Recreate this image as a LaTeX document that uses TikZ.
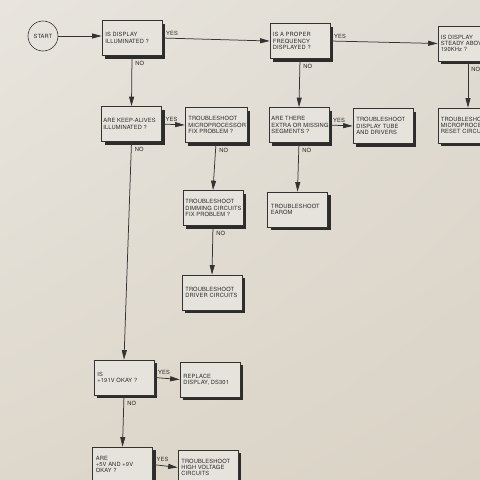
\documentclass[tikz,border=0pt]{standalone}
\usepackage{fontspec}
\newfontfamily\chartfont[LetterSpace=2.5]{TeX Gyre Heros}
\usetikzlibrary{arrows.meta,shadows,shadings}
\definecolor{ink}{HTML}{333333}
\definecolor{txt}{HTML}{2A2A2A}
\definecolor{boxfill}{HTML}{E6E3DC}
\definecolor{shadowc}{HTML}{2E2C2A}
\definecolor{bgul}{RGB}{232,229,222}
\definecolor{bgur}{RGB}{224,220,211}
\definecolor{bgll}{RGB}{222,216,204}
\definecolor{bglr}{RGB}{218,210,197}
\begin{document}
\begin{tikzpicture}[x=1pt,y=1pt,
  fbox/.style={draw=ink, line width=0.7pt, fill=boxfill, minimum width=60pt, minimum height=35pt, inner sep=0pt,
    drop shadow={shadow xshift=3pt, shadow yshift=-3pt, fill=shadowc, opacity=1}},
  ftext/.style={anchor=west, align=left, inner sep=0pt, text=txt, font=\chartfont\fontsize{5.75}{6.2}\selectfont},
  lbl/.style={inner sep=0pt, text=txt, font=\chartfont\fontsize{5.75}{6.2}\selectfont},
  arr/.style={draw=ink, line width=0.75pt, -{Triangle[length=9.5pt,width=5pt]}},
  yes/.style={lbl, anchor=south west, xshift=3.5pt, yshift=2.5pt},
  no/.style={lbl, anchor=north west, xshift=3pt, yshift=-5pt}
]
\useasboundingbox (0,-480) rectangle (480,0);
\clip (0,-480) rectangle (480,0);
\shade[upper left=bgul, upper right=bgur, lower left=bgll, lower right=bglr]
  (0,-480) rectangle (480,0);

% nodes
\node[circle, draw=ink, line width=0.6pt, minimum size=30pt, inner sep=0pt, fill=boxfill, lbl] (start) at (43,-36) {START};

\node[fbox] (b1) at (132,-38) {};
\node[ftext] (t1) at ([xshift=3.5pt]b1.west) {IS DISPLAY\\ILLUMINATED ?};
\node[fbox] (b2) at (300,-41) {};
\node[ftext] (t2) at ([xshift=3pt]b2.west) {IS A PROPER\\FREQUENCY\\DISPLAYED ?};
\node[fbox] (b3) at (468,-43.5) {};
\node[ftext] (t3) at ([xshift=3pt]b3.west) {IS DISPLAY\\STEADY ABOVE\\190KHz ?};
\node[fbox] (reset) at (468,-125.5) {};
\node[ftext] (t4) at ([xshift=3pt]reset.west) {TROUBLESHOOT\\MICROPROCESSOR\\RESET CIRCUITS};
\node[fbox] (extra) at (299,-125) {};
\node[ftext] (t5) at ([xshift=2.5pt]extra.west) {ARE THERE\\EXTRA OR MISSING\\SEGMENTS ?};
\node[fbox] (tube) at (383,-126) {};
\node[ftext] (t6) at ([xshift=3.5pt]tube.west) {TROUBLESHOOT\\DISPLAY TUBE\\AND DRIVERS};
\node[fbox] (earom) at (297.5,-209.5) {};
\node[ftext] (t7) at ([xshift=3.5pt]earom.west) {TROUBLESHOOT\\EAROM};
\node[fbox] (keep) at (131.5,-124) {};
\node[ftext] (t8) at ([xshift=2pt]keep.west) {ARE KEEP-ALIVES\\ILLUMINATED ?};
\node[fbox, minimum width=62pt] (micro) at (216,-125) {};
\node[ftext] (t9) at ([xshift=3.5pt]micro.west) {TROUBLESHOOT\\MICROPROCESSOR\\FIX PROBLEM ?};
\node[fbox] (dim) at (213,-208) {};
\node[ftext] (t10) at ([xshift=2.5pt]dim.west) {TROUBLESHOOT\\DIMMING CIRCUITS\\FIX PROBLEM ?};
\node[fbox] (driver) at (212,-292.5) {};
\node[ftext] (t11) at ([xshift=3.5pt]driver.west) {TROUBLESHOOT\\DRIVER CIRCUITS};
\node[fbox] (v191) at (124,-377.5) {};
\node[ftext] (t12) at ([xshift=3.5pt]v191.west) {IS\\+191V OKAY ?};
\node[fbox] (replace) at (210,-379.5) {};
\node[ftext] (t13) at ([xshift=3.5pt]replace.west) {REPLACE\\DISPLAY, DS301};
\node[fbox] (v5) at (122.5,-464.5) {};
\node[ftext] (t14) at ([xshift=3.5pt]v5.west) {ARE\\+5V AND +9V\\OKAY ?};
\node[fbox] (hv) at (208,-467.5) {};
\node[ftext] (t15) at ([xshift=3.5pt]hv.west) {TROUBLESHOOT\\HIGH VOLTAGE\\CIRCUITS};

% connectors
\draw[arr] (start) -- (start -| b1.west);
\draw[arr] (b1.east) -- (b2.west) node[pos=0, yes] (y1) {YES};
\draw[arr] (b1.south) -- (keep.north) node[pos=0, no] (n1) {NO};
\draw[arr] (b2.east) -- (b3.west) node[pos=0, yes] (y2) {YES};
\draw[arr] (b2.south) -- (extra.north) node[pos=0, no] (n2) {NO};
\draw[arr] (b3.south) -- (reset.north) node[pos=0, no] (n3) {NO};
\draw[arr] (extra.east) -- (tube.west) node[pos=0, yes] (y3) {YES};
\draw[arr] (extra.south) -- (earom.north) node[pos=0, no] (n4) {NO};
\draw[arr] (keep.east) -- (micro.west) node[pos=0, yes] (y4) {YES};
\draw[arr] (keep.south) -- (v191.north) node[pos=0, no] (n5) {NO};
\draw[arr] (micro.south) -- (dim.north) node[pos=0, no] (n6) {NO};
\draw[arr] (dim.south) -- (driver.north) node[pos=0, no] (n7) {NO};
\draw[arr] (v191.east) -- (replace.west) node[pos=0, yes] (y5) {YES};
\draw[arr] (v191.south) -- (v5.north) node[pos=0, no] (n8) {NO};
\draw[arr] (v5.east) -- (hv.west) node[pos=0, yes] (y6) {YES};
\end{tikzpicture}
\end{document}
